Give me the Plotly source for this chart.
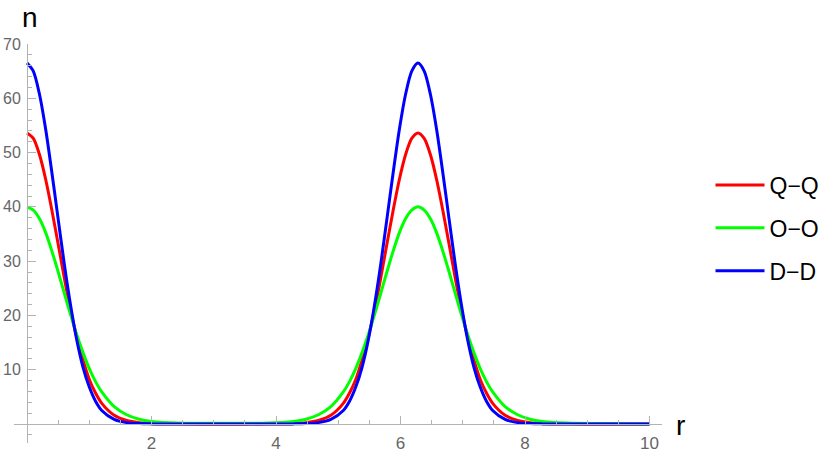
import plotly.graph_objects as go

# r grid (left lobe around 0, right lobe around 2*pi)
r = [0, 0.1, 0.2, 0.3, 0.4, 0.5, 0.6, 0.7, 0.8, 0.9, 1.0, 1.1, 1.2, 1.4, 1.6, 1.8, 2.0, 2.4, 3.14, 3.88,
     4.28, 4.48, 4.68, 4.88, 5.08, 5.18, 5.28, 5.38, 5.48, 5.58, 5.68, 5.78, 5.88, 5.98, 6.08, 6.18, 6.28,
     6.38, 6.48, 6.58, 6.68, 6.78, 6.88, 6.98, 7.08, 7.18, 7.28, 7.38, 7.48, 7.68, 7.88, 8.08, 8.28,
     8.68, 9.28, 10.0]

qq = [53.6, 52.6, 49.6, 45.0, 39.3, 33.1, 26.8, 20.9, 15.9, 11.7, 8.2, 5.7, 3.8, 1.6, 0.64, 0.25, 0.11,
      0.03, 0.02, 0.03,
      0.11, 0.25, 0.64, 1.6, 3.8, 5.7, 8.2, 11.7, 15.9, 20.9, 26.8, 33.1, 39.3, 45.0, 49.6, 52.6, 53.6,
      52.6, 49.6, 45.0, 39.3, 33.1, 26.8, 20.9, 15.9, 11.7, 8.2, 5.7, 3.8, 1.6, 0.64, 0.25, 0.11,
      0.03, 0.01, 0.0]

oo = [40.0, 39.4, 37.8, 35.2, 31.8, 28.0, 24.0, 20.1, 16.4, 13.1, 10.2, 7.8, 5.9, 3.2, 1.7, 0.88, 0.48,
      0.17, 0.12, 0.17,
      0.48, 0.88, 1.7, 3.2, 5.9, 7.8, 10.2, 13.1, 16.4, 20.1, 24.0, 28.0, 31.8, 35.2, 37.8, 39.4, 40.0,
      39.4, 37.8, 35.2, 31.8, 28.0, 24.0, 20.1, 16.4, 13.1, 10.2, 7.8, 5.9, 3.2, 1.7, 0.88, 0.48,
      0.17, 0.08, 0.02]

dd = [66.5, 65.0, 60.7, 54.2, 46.2, 37.7, 29.3, 21.8, 15.4, 10.4, 6.8, 4.2, 2.5, 0.85, 0.25, 0.07, 0.02,
      0.0, 0.0, 0.0,
      0.02, 0.07, 0.25, 0.85, 2.5, 4.2, 6.8, 10.4, 15.4, 21.8, 29.3, 37.7, 46.2, 54.2, 60.7, 65.0, 66.5,
      65.0, 60.7, 54.2, 46.2, 37.7, 29.3, 21.8, 15.4, 10.4, 6.8, 4.2, 2.5, 0.85, 0.25, 0.07, 0.02,
      0.0, 0.0, 0.0]

series_names = ["Q\u2212Q", "O\u2212O", "D\u2212D"]
series_colors = ["#ff0000", "#00ff00", "#0000ff"]
x_tick_vals = [2, 4, 6, 8, 10]
x_tick_text = ["2", "4", "6", "8", "10"]
y_tick_vals = [10, 20, 30, 40, 50, 60, 70]
y_tick_text = ["10", "20", "30", "40", "50", "60", "70"]

FONT = "Liberation Sans, Arial, sans-serif"
AX = "#b3b3b3"
W, H = 830, 459

fig = go.Figure()
for name, ys, col in zip(series_names, [qq, oo, dd], series_colors):
    fig.add_trace(go.Scatter(x=r, y=ys, mode="lines", name=name, legendgroup=name,
                             line=dict(color=col, width=3, shape="spline", smoothing=0.8)))

xr = [-0.21, 10.2]
yr = [-3.5, 70]
x0_frac = (0 - xr[0]) / (xr[1] - xr[0])
y0_frac = (0 - yr[0]) / (yr[1] - yr[0])

fig.update_layout(
    width=W, height=H,
    margin=dict(l=14, r=W - 662, t=44, b=H - 443, autoexpand=False),
    paper_bgcolor="white", plot_bgcolor="white",
    font=dict(family=FONT),
    showlegend=True,
    legend=dict(xref="container", yref="container", x=710.5 / W, y=1 - 228 / H,
                xanchor="left", yanchor="middle", traceorder="grouped", itemwidth=49,
                tracegroupgap=10, font=dict(size=23, color="black", family=FONT),
                bgcolor="rgba(0,0,0,0)"),
    annotations=[
        dict(text="n", x=x0_frac, y=1.0, xref="paper", yref="paper", yshift=27, xshift=3,
             showarrow=False,
             font=dict(size=28, color="black", family=FONT), xanchor="center", yanchor="middle"),
        dict(text="r", x=1.0, y=y0_frac, xref="paper", yref="paper", xshift=18, yshift=-1,
             showarrow=False,
             font=dict(size=28, color="black", family=FONT), xanchor="center", yanchor="middle"),
    ],
)

fig.update_xaxes(range=xr, domain=[0, 1], anchor="free", position=y0_frac, automargin=False,
                 showline=True, linecolor=AX, linewidth=1, showgrid=False, zeroline=False,
                 ticks="inside", ticklen=8, tickcolor=AX, tickwidth=1,
                 tickmode="array", tickvals=x_tick_vals, ticktext=x_tick_text,
                 tickfont=dict(size=17, color="#666666", family=FONT), ticklabelstandoff=4,
                 minor=dict(tickmode="linear", tick0=0, dtick=0.5, ticks="inside", ticklen=4,
                            tickcolor=AX, tickwidth=1, showgrid=False))

fig.update_yaxes(range=yr, domain=[0, 1], anchor="free", position=x0_frac, automargin=False,
                 showline=True, linecolor=AX, linewidth=1, showgrid=False, zeroline=False,
                 ticks="inside", ticklen=8, tickcolor=AX, tickwidth=1,
                 tickmode="array", tickvals=y_tick_vals, ticktext=y_tick_text,
                 tickfont=dict(size=16, color="#666666", family=FONT), ticklabelstandoff=3,
                 minor=dict(tickmode="linear", tick0=0, dtick=2, ticks="inside", ticklen=4,
                            tickcolor=AX, tickwidth=1, showgrid=False))

fig.write_html("out.html", config={"displayModeBar": False},
               post_script="document.body.style.margin='0px';document.body.style.padding='0px';")
